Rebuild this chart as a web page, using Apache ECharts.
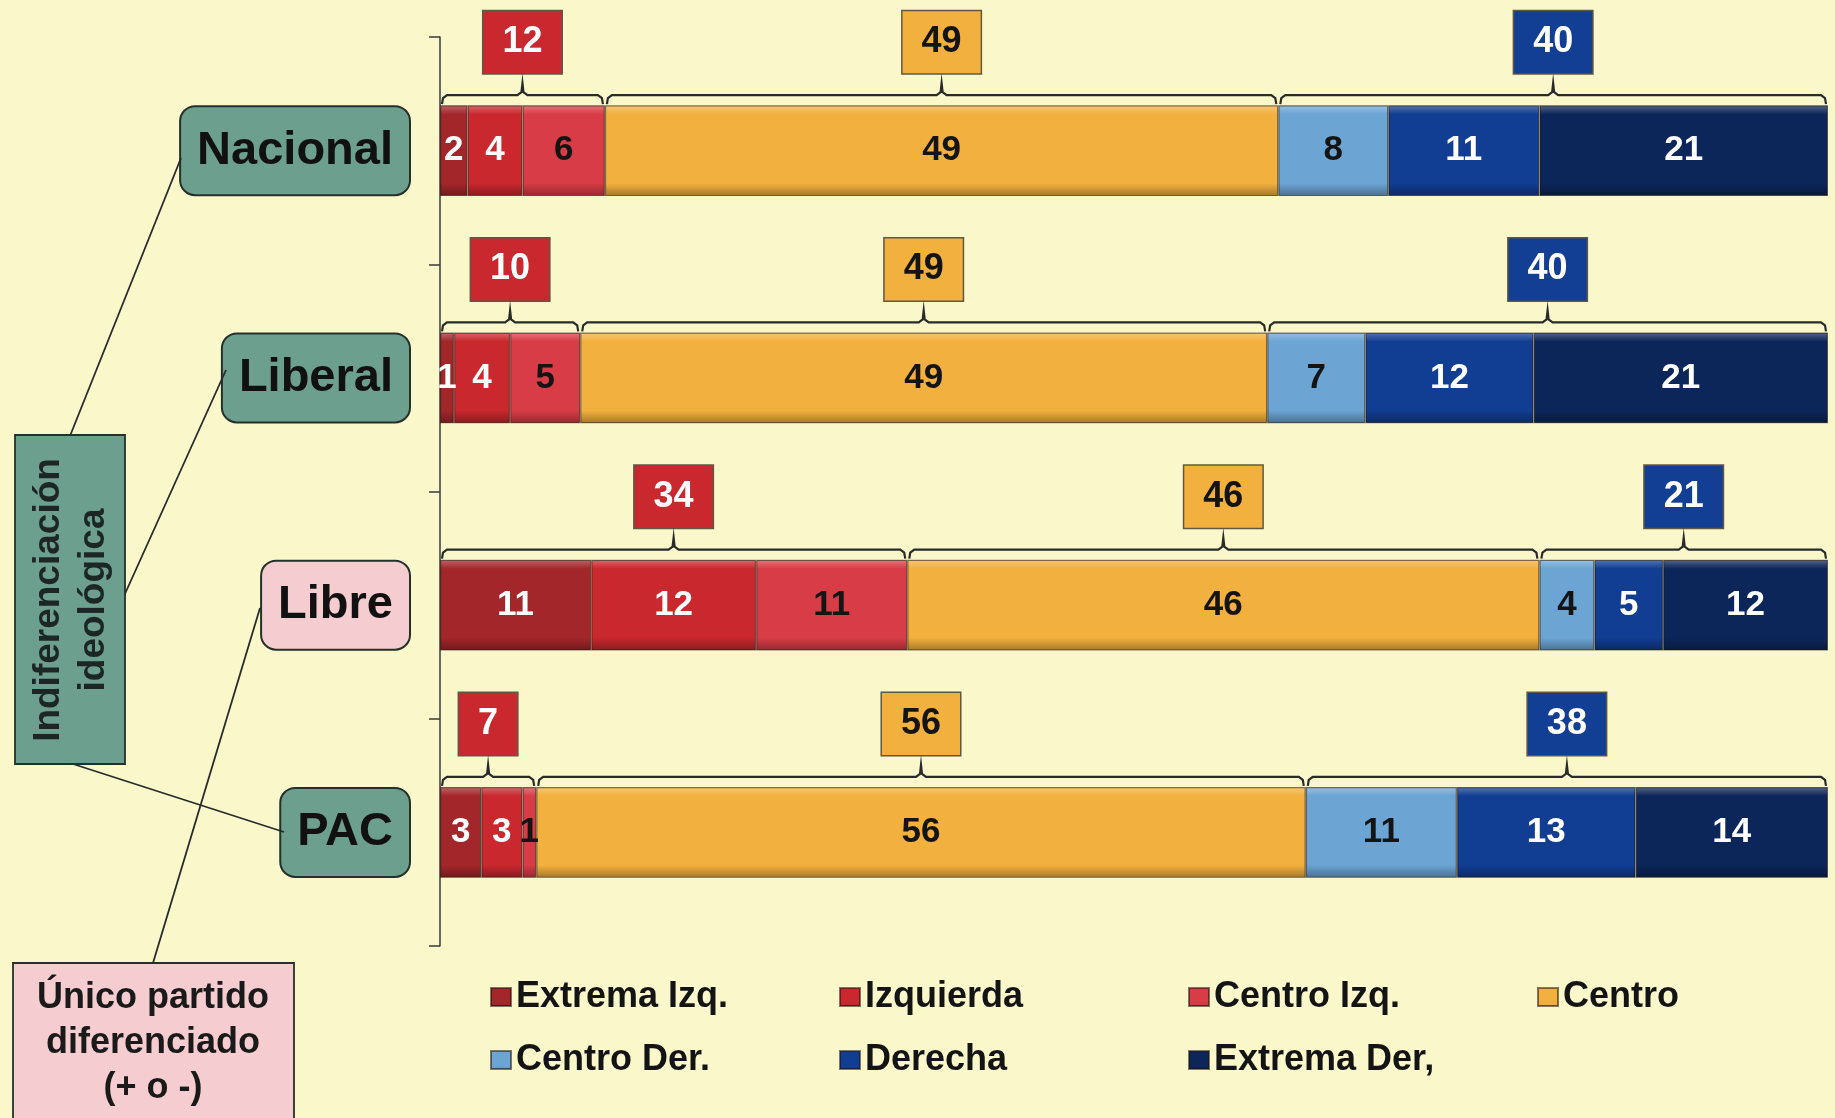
<!DOCTYPE html>
<html>
<head>
<meta charset="utf-8">
<script src="https://cdn.jsdelivr.net/npm/echarts@6/dist/echarts.min.js"></script>
<style>
html,body{margin:0;padding:0;background:#faf8cb;}
#c{width:1835px;height:1118px;}
</style>
</head>
<body>
<div id="c"></div>
<script>
// ---------- data ----------
const parties = ['Nacional', 'Liberal', 'Libre', 'PAC'];
const seriesNames = ['Extrema Izq.', 'Izquierda', 'Centro Izq.', 'Centro', 'Centro Der.', 'Derecha', 'Extrema Der,'];
const extremaIzq = [2, 1, 11, 3];
const izquierda  = [4, 4, 12, 3];
const centroIzq  = [6, 5, 11, 1];
const centro     = [49, 49, 46, 56];
const centroDer  = [8, 7, 4, 11];
const derecha    = [11, 12, 5, 13];
const extremaDer = [21, 21, 12, 14];
// group totals shown in the boxes above the brackets
const totalIzq    = [12, 10, 34, 7];
const totalCentro = [49, 49, 46, 56];
const totalDer    = [40, 40, 21, 38];

// ---------- styles ----------
const seriesValues = [extremaIzq, izquierda, centroIzq, centro, centroDer, derecha, extremaDer];
const colors = ['#a3262b', '#c8282e', '#d83c46', '#f2b03e', '#6ca4d4', '#113d92', '#0c2659'];
const labelColors = ['#ffffff', '#ffffff', '#141414', '#141414', '#141414', '#ffffff', '#ffffff'];
const boxColors = ['#c8282e', '#f2b03e', '#123e93'];
const boxTextColors = ['#ffffff', '#141414', '#ffffff'];
const FONT = '"Liberation Sans", Arial, Helvetica, sans-serif';
const BAR_RATIO = 0.4;

function shade(hex, amt) {
  const n = parseInt(hex.slice(1), 16);
  let r = (n >> 16) & 255, g = (n >> 8) & 255, b = n & 255;
  const f = c => Math.max(0, Math.min(255, Math.round(amt >= 0 ? c + (255 - c) * amt : c * (1 + amt))));
  return 'rgb(' + f(r) + ',' + f(g) + ',' + f(b) + ')';
}
function bevel(hex) {
  return new echarts.graphic.LinearGradient(0, 0, 0, 1, [
    { offset: 0, color: shade(hex, 0.3) },
    { offset: 0.1, color: hex },
    { offset: 0.86, color: hex },
    { offset: 1, color: shade(hex, -0.32) }
  ]);
}

// row totals -> each bar is drawn as a 100% stacked bar
const rowTotals = parties.map((p, i) => seriesValues.reduce((s, arr) => s + arr[i], 0));

const barSeries = seriesNames.map((name, k) => ({
  name: name,
  type: 'bar',
  stack: 'all',
  barWidth: (BAR_RATIO * 100) + '%',
  itemStyle: { color: bevel(colors[k]), borderColor: 'rgba(30,15,10,0.55)', borderWidth: 1.2 },
  label: {
    show: true,
    position: 'inside',
    color: labelColors[k],
    fontFamily: FONT,
    fontWeight: 'bold',
    fontSize: 35,
    formatter: p => String(p.data.raw)
  },
  data: seriesValues[k].map((v, i) => ({ value: v / rowTotals[i] * 100, raw: v }))
}));

// bracket data: [start, end, categoryIndex, groupTotal, groupIndex]
const bracketData = [];
parties.forEach((p, i) => {
  const t = rowTotals[i];
  const a = (extremaIzq[i] + izquierda[i] + centroIzq[i]) / t * 100;
  const b = a + centro[i] / t * 100;
  bracketData.push([0, a, i, totalIzq[i], 0]);
  bracketData.push([a, b, i, totalCentro[i], 1]);
  bracketData.push([b, 100, i, totalDer[i], 2]);
});

function renderBracket(params, api) {
  const x0 = api.value(0), x1 = api.value(1), ci = api.value(2), tot = api.value(3), g = api.value(4);
  const pa = api.coord([x0, ci]);
  const pb = api.coord([x1, ci]);
  const band = api.size([0, 1])[1];
  const barTop = pa[1] - band * BAR_RATIO / 2;
  const yLine = barTop - 10;
  const xa = pa[0] + 2, xb = pb[0] - 2, xm = (pa[0] + pb[0]) / 2;
  const pts = [
    [xa, barTop - 1], [xa + 1, yLine + 3], [xa + 5, yLine],
    [xm - 5, yLine], [xm - 1, yLine - 3], [xm, yLine - 12], [xm + 1, yLine - 3], [xm + 5, yLine],
    [xb - 5, yLine], [xb - 1, yLine + 3], [xb, barTop - 1]
  ];
  return {
    type: 'group',
    children: [
      { type: 'polyline', shape: { points: pts }, style: { stroke: '#2a2a2a', lineWidth: 2.2, fill: null } },
      {
        type: 'text', x: xm, y: yLine - 53,
        style: {
          text: String(tot), fill: boxTextColors[g],
          font: 'bold 36px ' + FONT,
          align: 'center', verticalAlign: 'middle',
          lineHeight: 36,
          backgroundColor: boxColors[g],
          borderColor: 'rgba(30,20,10,0.7)', borderWidth: 1.5,
          padding: [13, 19, 13, 19]
        }
      }
    ]
  };
}

const chart = echarts.init(document.getElementById('c'), null, { renderer: 'canvas' });
chart.setOption({
  backgroundColor: '#faf8cb',
  animation: false,
  grid: { left: 440, right: 7, top: 37, bottom: 172 },
  xAxis: { type: 'value', min: 0, max: 100, show: false },
  yAxis: {
    type: 'category',
    data: parties,
    inverse: true,
    axisLine: { show: true, lineStyle: { color: '#3a3a3a', width: 1.5 } },
    axisTick: { show: true, length: 11, lineStyle: { color: '#3a3a3a', width: 1.5 } },
    axisLabel: {
      margin: 31,
      formatter: v => '{' + (v === 'Libre' ? 'pink' : 'teal') + '|' + v + '}',
      rich: {
        teal: {
          backgroundColor: '#6d9f8e', borderColor: '#25302b', borderWidth: 2, borderRadius: 14,
          padding: [20, 16, 20, 16], fontSize: 47, fontWeight: 'bold', color: '#111', lineHeight: 47, fontFamily: FONT
        },
        pink: {
          backgroundColor: '#f5cdd0', borderColor: '#25302b', borderWidth: 2, borderRadius: 14,
          padding: [20, 16, 20, 16], fontSize: 47, fontWeight: 'bold', color: '#111', lineHeight: 47, fontFamily: FONT
        }
      }
    }
  },
  legend: {
    data: seriesNames,
    left: 490, top: 977, width: 1375,
    padding: 0,
    orient: 'horizontal',
    icon: 'rect',
    itemWidth: 20, itemHeight: 18,
    itemGap: 23,
    textStyle: { fontFamily: FONT, fontWeight: 'bold', fontSize: 36, color: '#141414', width: 300, lineHeight: 40 }
  },
  graphic: [
    { type: 'line', z: 1, shape: { x1: 70, y1: 436, x2: 181, y2: 158 }, style: { stroke: '#2a2a2a', lineWidth: 1.8 } },
    { type: 'line', z: 1, shape: { x1: 124, y1: 596, x2: 226, y2: 370 }, style: { stroke: '#2a2a2a', lineWidth: 1.8 } },
    { type: 'line', z: 1, shape: { x1: 73, y1: 764, x2: 284, y2: 832 }, style: { stroke: '#2a2a2a', lineWidth: 1.8 } },
    { type: 'line', z: 1, shape: { x1: 153, y1: 963, x2: 260, y2: 608 }, style: { stroke: '#2a2a2a', lineWidth: 1.8 } },
    { type: 'rect', z: 2, shape: { x: 15, y: 435, width: 110, height: 329 }, style: { fill: '#6d9f8e', stroke: '#25302b', lineWidth: 1.8 } },
    {
      type: 'text', z: 3, x: 71, y: 600, rotation: Math.PI / 2,
      style: { text: 'Indiferenciación\nideológica', font: 'bold 37px ' + FONT, fill: '#1c2624', align: 'center', verticalAlign: 'middle', lineHeight: 45 }
    },
    { type: 'rect', z: 2, shape: { x: 13, y: 963, width: 281, height: 170 }, style: { fill: '#f5cdd0', stroke: '#25302b', lineWidth: 1.8 } },
    {
      type: 'text', z: 3, x: 153, y: 1043,
      style: { text: 'Único partido\ndiferenciado\n(+ o -)', font: 'bold 36px ' + FONT, fill: '#1a1a1a', align: 'center', verticalAlign: 'middle', lineHeight: 45 }
    }
  ],
  series: barSeries.concat([{
    type: 'custom',
    name: 'brackets',
    coordinateSystem: 'cartesian2d',
    clip: false,
    silent: true,
    z: 5,
    encode: { x: [0, 1], y: 2 },
    renderItem: renderBracket,
    data: bracketData
  }])
});
</script>
</body>
</html>
